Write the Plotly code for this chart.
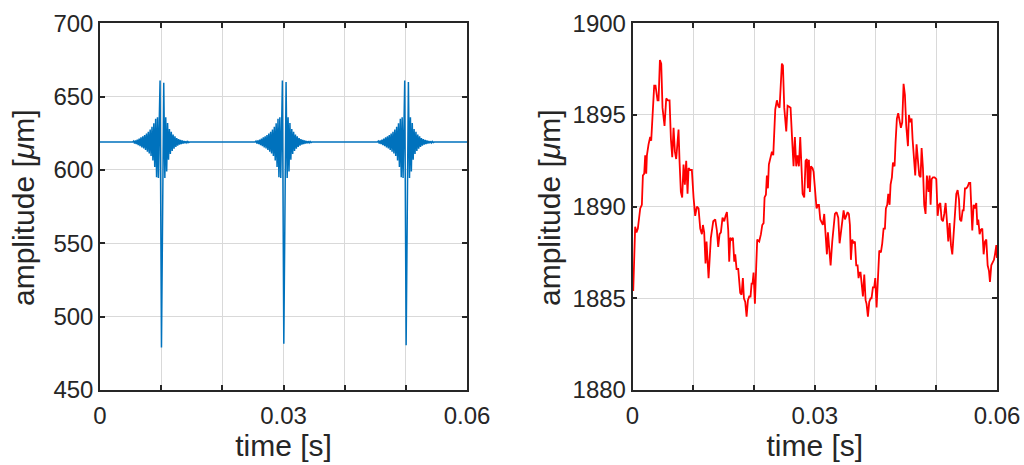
import plotly.graph_objects as go

# ---------------- left panel: ringing displacement signal ----------------
baseline_um = 619.0
burst_center_s = [0.01, 0.03, 0.05]

# ringing before the impact (offset in ms from burst centre, deviation in um)
pre_offset_ms = [-4.65, -4.5, -4.35, -4.2, -4.05, -3.9, -3.75, -3.6, -3.45, -3.3, -3.15,
                 -3.0, -2.85, -2.7, -2.55, -2.4, -2.25, -2.1, -1.95, -1.8, -1.65,
                 -1.5, -1.35, -1.2, -1.05, -0.9, -0.75, -0.6, -0.45, -0.3]
pre_dev_um = [0.0, 0.7, -0.9, 1.1, -1.3, 1.7, -2.0, 2.4, -2.8, 3.2, -3.6,
              4.0, -4.4, 4.8, -5.3, 5.9, -6.5, 7.1, -7.8, 8.5, -9.4,
              10.4, -12.5, 12.8, -17.0, 16.0, -24.0, 17.0, -24.5, 17.0]

# impact spike: first peak, trough, second peak
spike_offset_ms = [-0.18, 0.05, 0.42]
spike_values_um = [[661.0, 479.0, 659.5],
                   [661.0, 481.5, 660.0],
                   [661.0, 480.5, 660.0]]

# ringing after the impact
post_offset_ms = [0.6, 0.75, 0.9, 1.05, 1.2, 1.35, 1.5, 1.65, 1.8, 1.95,
                  2.1, 2.25, 2.4, 2.55, 2.7, 2.85, 3.0, 3.15, 3.3, 3.45,
                  3.6, 3.75, 3.9, 4.05, 4.2, 4.35, 4.5, 4.65]
post_dev_um = [-24.5, 17.0, -20.0, 13.0, -12.0, 9.0, -8.0, 7.0, -6.0, 5.2,
               -4.5, 3.9, -3.3, 2.8, -2.4, 2.0, -1.7, 1.5, -1.3, 1.1,
               -0.9, 0.8, -0.7, 0.6, -0.5, 0.4, -0.3, 0.0]

# ---------------- right panel: measured amplitude ----------------
t_right_ms = [
    0.0, 0.12, 0.44, 0.66, 0.88, 1.27, 1.54, 1.71, 1.93, 2.09, 2.26, 2.37, 2.64, 2.91, 3.08,
    3.30, 3.57, 3.79, 4.12, 4.29, 4.51, 4.73, 4.94, 5.27, 5.55, 5.82, 6.10, 6.32, 6.54, 6.76,
    6.98, 7.19, 7.58, 7.74, 7.96, 8.18, 8.40, 8.62, 8.84, 9.06, 9.23, 9.50, 9.77, 10.05, 10.32,
    10.60, 10.87, 11.15, 11.42, 11.59, 11.80, 12.02, 12.19, 12.52, 12.90, 13.29, 13.62, 13.89,
    14.11, 14.33, 14.55, 14.82, 15.10, 15.32, 15.54, 15.76, 15.92, 16.09, 16.31, 16.53, 16.75,
    16.91, 17.13, 17.40, 17.57, 17.73, 17.95, 18.17, 18.34, 18.56, 18.78, 19.00, 19.22, 19.43,
    19.60, 19.76, 19.93, 20.15, 20.37, 20.53, 20.86, 21.14, 21.36, 21.58, 21.74, 21.96, 22.12,
    22.29, 22.45, 22.67, 22.95, 23.17, 23.33, 23.50, 23.77, 23.99, 24.21, 24.37, 24.59, 24.76,
    24.98, 25.31, 25.53, 25.80, 26.02, 26.24, 26.51, 26.73, 26.95, 27.17, 27.39, 27.61, 27.83,
    28.00, 28.27, 28.49, 28.71, 28.87, 29.04, 29.20, 29.37, 29.64, 29.81, 30.03, 30.30, 30.52,
    30.69, 30.91, 31.12, 31.34, 31.56, 31.78, 32.00, 32.17, 32.39, 32.61, 32.88, 33.10, 33.32,
    33.59, 33.87, 34.09, 34.31, 34.53, 34.75, 34.97, 35.24, 35.41, 35.62, 35.79, 35.95, 36.17,
    36.39, 36.61, 36.83, 37.05, 37.21, 37.38, 37.54, 37.71, 37.93, 38.15, 38.37, 38.53, 38.75,
    38.97, 39.19, 39.35, 39.57, 39.79, 39.96, 40.18, 40.40, 40.62, 40.89, 41.11, 41.33, 41.55,
    41.71, 41.93, 42.10, 42.32, 42.48, 42.70, 42.87, 43.14, 43.30, 43.52, 43.74, 43.96, 44.18,
    44.40, 44.62, 44.84, 45.06, 45.34, 45.50, 45.72, 45.94, 46.10, 46.32, 46.54, 46.76, 46.98,
    47.20, 47.42, 47.59, 47.81, 48.02, 48.24, 48.46, 48.74, 48.91, 49.07, 49.24, 49.46, 49.73,
    50.01, 50.23, 50.45, 50.67, 50.88, 51.10, 51.32, 51.54, 51.76, 51.98, 52.20, 52.42, 52.64,
    52.86, 53.08, 53.30, 53.52, 53.74, 53.90, 54.12, 54.34, 54.51, 54.73, 54.95, 55.17, 55.39,
    55.60, 55.77, 55.93, 56.15, 56.37, 56.59, 56.76, 56.92, 57.14, 57.36, 57.58, 57.80, 58.02,
    58.24, 58.46, 58.68, 58.84, 59.06, 59.28, 59.50, 59.67, 59.89, 60.0]
amp_right_um = [
    1886.0, 1885.4, 1888.9, 1888.6, 1888.8, 1889.9, 1890.1, 1891.7, 1891.8, 1892.8, 1891.8, 1892.8, 1893.4, 1893.8, 1893.6,
    1895.2, 1896.6, 1896.6, 1895.8, 1895.8, 1898.0, 1897.8, 1895.4, 1894.4, 1895.9, 1895.8, 1895.8, 1893.7, 1892.7, 1894.3,
    1893.0, 1892.6, 1894.2, 1892.5, 1890.8, 1890.5, 1892.3, 1891.2, 1892.5, 1890.7, 1892.1, 1892.0, 1892.0, 1890.5, 1889.5,
    1890.0, 1889.9, 1888.8, 1888.5, 1889.0, 1888.6, 1886.9, 1888.1, 1886.1, 1888.3, 1889.2, 1889.3, 1888.7,
    1887.8, 1888.5, 1888.6, 1889.4, 1889.2, 1889.5, 1889.7, 1888.7, 1887.0, 1888.3, 1888.2, 1888.3, 1887.0,
    1887.4, 1886.6, 1886.6, 1886.1, 1885.3, 1885.2, 1886.1, 1885.0, 1884.8, 1884.0, 1884.9, 1885.1, 1885.1,
    1885.8, 1885.8, 1886.4, 1884.7, 1886.8, 1888.2, 1888.1, 1888.5, 1889.0, 1889.1, 1890.5, 1890.65, 1891.7,
    1891.0, 1892.3, 1892.6, 1893.0, 1892.8, 1893.7, 1895.3, 1895.8, 1895.5, 1895.4, 1896.4, 1897.8, 1897.7,
    1895.4, 1894.1, 1895.5, 1895.45, 1895.4, 1893.9, 1892.2, 1893.8, 1892.2, 1892.8, 1892.2, 1893.8, 1892.3,
    1890.7, 1890.5, 1892.5, 1892.6, 1891.0, 1892.55, 1890.8, 1892.2, 1892.1, 1891.9, 1890.8, 1889.9, 1890.1,
    1890.1, 1889.3, 1889.1, 1889.0, 1889.6, 1888.6, 1887.4, 1888.6, 1887.6, 1886.8, 1888.1, 1889.1, 1889.6,
    1889.7, 1889.4, 1888.0, 1888.7, 1889.3, 1889.8, 1889.3, 1889.5, 1889.7, 1889.6, 1889.0, 1887.1, 1888.2,
    1888.0, 1888.1, 1886.8, 1886.8, 1886.1, 1886.4, 1886.4, 1885.8, 1885.1, 1886.3, 1884.9, 1884.7, 1884.0,
    1884.8, 1885.0, 1885.0, 1885.6, 1885.6, 1886.1, 1884.5, 1886.3, 1887.6, 1887.5, 1888.0, 1888.8, 1888.8,
    1889.9, 1890.1, 1890.7, 1890.1, 1891.2, 1891.6, 1892.4, 1892.2, 1893.5, 1894.8, 1895.1, 1894.6, 1894.3,
    1894.6, 1896.7, 1896.1, 1894.4, 1893.3, 1895.0, 1894.6, 1894.8, 1893.7, 1892.8, 1891.7, 1893.4, 1892.3,
    1891.7, 1891.6, 1893.2, 1892.1, 1890.1, 1889.6, 1891.7, 1890.8, 1891.7, 1890.1, 1891.5, 1891.6, 1891.6,
    1891.5, 1889.5, 1890.1, 1890.2, 1889.3, 1889.2, 1889.6, 1890.2, 1889.2, 1888.1, 1889.1, 1887.9, 1887.4,
    1888.5, 1889.7, 1890.7, 1890.9, 1890.4, 1889.3, 1889.2, 1889.8, 1889.8, 1891.0, 1891.0, 1891.1, 1891.3,
    1891.3, 1889.9, 1888.7, 1890.1, 1889.9, 1890.2, 1889.0, 1889.3, 1888.5, 1888.75, 1888.8, 1887.4, 1888.1,
    1888.2, 1886.8, 1886.5, 1885.9, 1886.8, 1887.0, 1887.1, 1887.4, 1887.9, 1887.2]

# ---------------- axis ticks ----------------
x_tickvals = [0, 0.01, 0.02, 0.03, 0.04, 0.05, 0.06]
x_ticktext = ["0", "", "", "0.03", "", "", "0.06"]
left_yticks = [450, 500, 550, 600, 650, 700]
right_yticks = [1880, 1885, 1890, 1895, 1900]

# assemble the left signal: flat baseline joined through each burst
t_left = [0.0]
a_left = [baseline_um]
for center, spike in zip(burst_center_s, spike_values_um):
    for off, dev in zip(pre_offset_ms, pre_dev_um):
        t_left.append(center + off / 1000)
        a_left.append(baseline_um + dev)
    for off, val in zip(spike_offset_ms, spike):
        t_left.append(center + off / 1000)
        a_left.append(val)
    for off, dev in zip(post_offset_ms, post_dev_um):
        t_left.append(center + off / 1000)
        a_left.append(baseline_um + dev)
t_left.append(0.06)
a_left.append(baseline_um)

t_right = [v / 1000 for v in t_right_ms]

fig = go.Figure()
fig.add_trace(go.Scatter(x=t_left, y=a_left, mode="lines",
                         line=dict(color="#0072BD", width=1.5),
                         xaxis="x", yaxis="y", showlegend=False))
fig.add_trace(go.Scatter(x=t_right, y=amp_right_um, mode="lines",
                         line=dict(color="#FF0000", width=1.8),
                         xaxis="x2", yaxis="y2", showlegend=False))

W, H = 1024, 465
ink = "#262626"
grid = "#d9d9d9"
font_family = "Liberation Sans, Arial, sans-serif"
tick_font = dict(family=font_family, size=24, color=ink)
title_font = dict(family=font_family, size=30, color=ink)

common_x = dict(range=[0, 0.06], tickvals=x_tickvals, ticktext=x_ticktext,
                showgrid=True, gridcolor=grid, gridwidth=1, zeroline=False,
                showline=True, linecolor=ink, linewidth=1.5, mirror="ticks",
                ticks="inside", ticklen=5, tickcolor=ink, tickwidth=1.5,
                tickfont=tick_font, ticklabelstandoff=3,
                title=dict(text="time [s]", font=title_font, standoff=2),
                automargin=False)
common_y = dict(showgrid=True, gridcolor=grid, gridwidth=1, zeroline=False,
                showline=True, linecolor=ink, linewidth=1.5, mirror="ticks",
                ticks="inside", ticklen=5, tickcolor=ink, tickwidth=1.5,
                tickfont=tick_font, ticklabelstandoff=0,
                automargin=False)

y_dom = [75 / H, 441.7 / H]
fig.update_layout(
    width=W, height=H,
    margin=dict(l=0, r=0, t=0, b=0),
    paper_bgcolor="white", plot_bgcolor="white",
    xaxis=dict(domain=[100 / W, 467 / W], anchor="y", **common_x),
    yaxis=dict(domain=y_dom, anchor="x", range=[450, 700],
               tickvals=left_yticks, **common_y),
    xaxis2=dict(domain=[632.5 / W, 997 / W], anchor="y2", **common_x),
    yaxis2=dict(domain=y_dom, anchor="x2", range=[1880, 1900],
                tickvals=right_yticks, **common_y),
)

# vertical axis titles placed beside each panel's tick labels
ylabel = "amplitude [<i>μ</i>m]"
for x_px in (24, 550):
    fig.add_annotation(text=ylabel, textangle=-90, showarrow=False,
                       xref="paper", yref="paper",
                       x=x_px / W, y=1 - 208 / H,
                       xanchor="center", yanchor="middle",
                       font=title_font)

fig.write_html("out.html")
